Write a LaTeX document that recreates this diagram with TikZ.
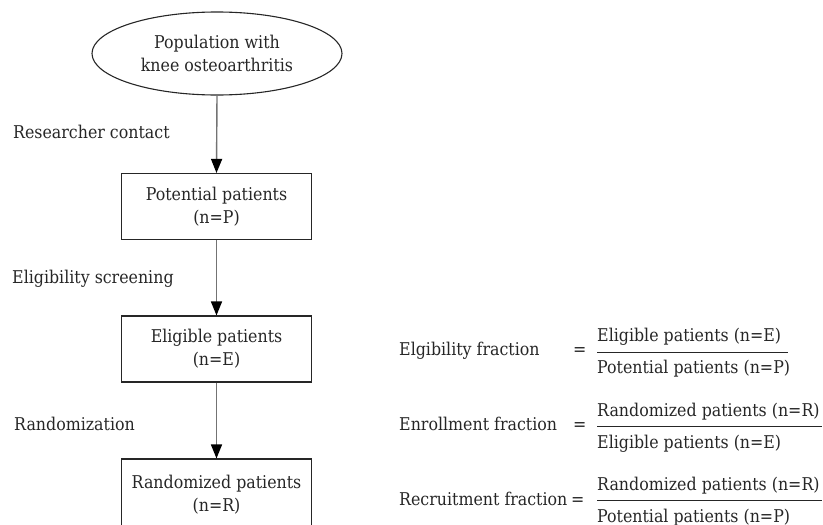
\documentclass[tikz,border=0pt]{standalone}
\usepackage{fontspec}
\setmainfont{DejaVu Serif Condensed}
\usetikzlibrary{shapes.geometric,arrows.meta}
\begin{document}
\begin{tikzpicture}[x=1pt,y=-1pt,
  every node/.style={font=\fontsize{17.6}{23}\selectfont, inner sep=0pt, text=black!85},
  stepbox/.style={draw=black!85, line width=1.1pt, minimum width=190pt, minimum height=66pt, align=center},
  startshape/.style={draw=black!85, ellipse, line width=1.1pt, minimum width=250pt, minimum height=83pt, align=center},
  flow/.style={draw=black!55, line width=1.4pt, -{Triangle[length=14pt,width=11pt,color=black]}},
  lbl/.style={anchor=base west},
  fracline/.style={draw=black!85, line width=1pt}]
\useasboundingbox (0,0) rectangle (823,525);
\clip (0,0) rectangle (823,525);

% flow chart
\node[startshape] (pop) at (217,53.5) {Population with\\knee osteoarthritis};
\node[stepbox] (pot) at (216.5,206.5) {Potential patients\\(n=P)};
\node[stepbox] (eli) at (216.5,349) {Eligible patients\\(n=E)};
\node[stepbox, minimum height=72pt] (ran) at (216.5,495) {Randomized patients\\(n=R)};

\draw[flow] (pop.south) -- (pot.north);
\draw[flow] (pot.south) -- (eli.north);
\draw[flow] (eli.south) -- (ran.north);

\node[lbl] (l1) at (13,138) {Researcher contact};
\node[lbl] (l2) at (12,283) {Eligibility screening};
\node[lbl] (l3) at (14,430) {Randomization};

% fractions
\node[lbl] (f1) at (399,355) {Elgibility fraction};
\node[lbl] (e1) at (573,355) {=};
\node[lbl] (n1) at (597,341.7) {Eligible patients (n=E)};
\node[lbl] (d1) at (597,373) {Potential patients (n=P)};
\coordinate (a1) at (597,352);
\coordinate (b1) at (788,352);
\draw[fracline] (a1) -- (b1);

\node[lbl] (f2) at (399,430) {Enrollment fraction};
\node[lbl] (e2) at (573,430) {=};
\node[lbl] (n2) at (597,416) {Randomized patients (n=R)};
\node[lbl] (d2) at (597,448) {Eligible patients (n=E)};
\coordinate (a2) at (597,426);
\coordinate (b2) at (822,426);
\draw[fracline] (a2) -- (b2);

\node[lbl] (f3) at (399,505) {Recruitment fraction};
\node[lbl] (e3) at (571,505) {=};
\node[lbl] (n3) at (597,490) {Randomized patients (n=R)};
\node[lbl] (d3) at (597,522) {Potential patients (n=P)};
\coordinate (a3) at (597,500);
\coordinate (b3) at (822,500);
\draw[fracline] (a3) -- (b3);
\end{tikzpicture}
\end{document}
